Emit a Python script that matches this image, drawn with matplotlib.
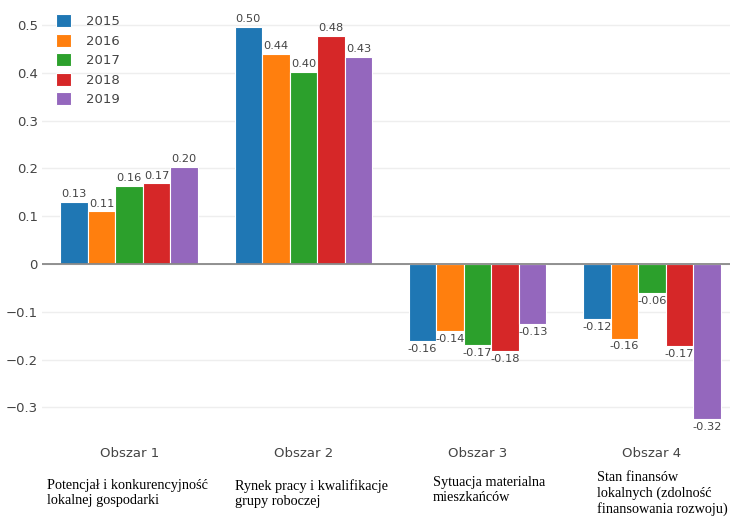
import matplotlib.pyplot as plt
import numpy as np

# data
areas = ["Obszar 1", "Obszar 2", "Obszar 3", "Obszar 4"]
subtitles = ["Potencjał i konkurencyjność\nlokalnej gospodarki",
             "Rynek pracy i kwalifikacje\ngrupy roboczej",
             "Sytuacja materialna\nmieszkańców",
             "Stan finansów\nlokalnych (zdolność\nfinansowania rozwoju)"]
years = ["2015", "2016", "2017", "2018", "2019"]
v2015 = [0.13, 0.496, -0.161, -0.115]
v2016 = [0.11, 0.44, -0.141, -0.156]
v2017 = [0.163, 0.402, -0.169, -0.061]
v2018 = [0.169, 0.478, -0.182, -0.171]
v2019 = [0.204, 0.434, -0.126, -0.324]
colors = ["#1f77b4", "#ff7f0e", "#2ca02c", "#d62728", "#9467bd"]

W, H = 730, 517
fig = plt.figure(figsize=(W / 100, H / 100), dpi=100)
# plot area in pixels (left, top, right, bottom); right edge runs past the figure like the original
ax = fig.add_axes([42 / W, 1 - 440 / H, 697 / W, 425 / H])

x = np.arange(len(areas))
bw = 0.158
series = [v2015, v2016, v2017, v2018, v2019]
for i, (vals, yr) in enumerate(zip(series, years)):
    bars = ax.bar(x + (i - 2) * bw, vals, bw, color=colors[i], edgecolor="white",
                  linewidth=0.8, label=yr, zorder=3)
    ax.bar_label(bars, labels=["{:.2f}".format(v) for v in vals], padding=2,
                 fontsize=8.2, color="#444444", zorder=4)

ax.set_xlim(-0.5, 3.5)
ax.set_ylim(-0.368, 0.521)
ax.set_yticks([-0.3, -0.2, -0.1, 0, 0.1, 0.2, 0.3, 0.4, 0.5])
ax.set_yticklabels(["\u22120.3", "\u22120.2", "\u22120.1", "0", "0.1", "0.2", "0.3", "0.4", "0.5"])
ax.set_xticks(x)
ax.set_xticklabels(areas)
ax.tick_params(axis="both", length=0, labelsize=9.5, colors="#444444")
ax.tick_params(axis="x", pad=5)
ax.tick_params(axis="y", pad=3)
ax.grid(axis="y", color="#eeeeee", linewidth=1, zorder=0)
ax.axhline(0, color="#888888", linewidth=1.3, zorder=5)
for s in ax.spines.values():
    s.set_visible(False)

# serif descriptions under the area labels
sub_x = [47, 235, 433, 597]
sub_top = [479, 479, 476, 471]
for t, sx, sy in zip(subtitles, sub_x, sub_top):
    fig.text(sx / W, 1 - sy / H, t, ha="left", va="top", family="Liberation Serif",
             fontsize=10.3, color="black", linespacing=1.2)

leg = ax.legend(loc="upper left", bbox_to_anchor=((56 - 42) / 697, 1 + 1 / 425),
                frameon=False, fontsize=9.5, handlelength=1.15, handleheight=1.15,
                handletextpad=1.1, labelspacing=0.42, borderpad=0, borderaxespad=0)
for t in leg.get_texts():
    t.set_color("#444444")

fig.savefig("out.png", dpi=100)
